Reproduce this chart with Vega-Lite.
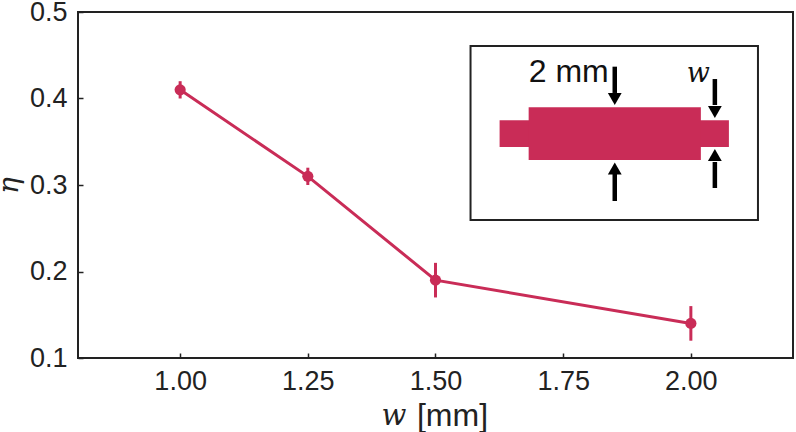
{"$schema":"https://vega.github.io/schema/vega-lite/v6.json","width":715,"height":346,"autosize":"none","padding":{"left":78,"top":12,"right":3,"bottom":74},"background":"white","config":{"view":{"stroke":"#222222","strokeWidth":2},"axis":{"grid":false,"domain":false,"tickColor":"#222222","tickWidth":1.5,"tickSize":-5,"labelFont":"Liberation Sans","labelFontSize":27,"labelColor":"#222222","titleColor":"#222222"}},"layer":[{"data":{"name":"eff","values":[{"w":1.0,"eta":0.41,"lo":0.40,"hi":0.42},{"w":1.25,"eta":0.31,"lo":0.30,"hi":0.32},{"w":1.5,"eta":0.19,"lo":0.17,"hi":0.21},{"w":2.0,"eta":0.14,"lo":0.12,"hi":0.16}]},"mark":{"type":"line","color":"#C92C57","strokeWidth":3},"encoding":{"x":{"field":"w","type":"quantitative","scale":{"domain":[0.8,2.2],"nice":false,"zero":false},"axis":{"values":[1,1.25,1.5,1.75,2],"format":".2f","labelPadding":15,"title":"[mm]","titleFont":"Liberation Sans","titleFontSize":32,"titleFontWeight":"normal","titleX":374,"titleY":67,"titleBaseline":"alphabetic","titleAlign":"center"}},"y":{"field":"eta","type":"quantitative","scale":{"domain":[0.1,0.5],"nice":false,"zero":false},"axis":{"values":[0.1,0.2,0.3,0.4,0.5],"format":".1f","labelPadding":16,"title":"η","titleFont":"DejaVu Serif","titleFontStyle":"italic","titleFontSize":28,"titleFontWeight":"normal","titleX":-55,"titleY":173}}}},{"data":{"name":"eff"},"mark":{"type":"rule","color":"#C92C57","strokeWidth":3},"encoding":{"x":{"field":"w","type":"quantitative"},"y":{"field":"lo","type":"quantitative"},"y2":{"field":"hi"}}},{"data":{"name":"eff"},"mark":{"type":"point","filled":true,"opacity":1,"color":"#C92C57","size":125},"encoding":{"x":{"field":"w","type":"quantitative"},"y":{"field":"eta","type":"quantitative"}}},{"data":{"values":[{"x1":1.5686,"x2":2.1314,"y1":0.2595,"y2":0.4607}]},"mark":{"type":"rect","fill":null,"stroke":"#222222","strokeWidth":2},"encoding":{"x":{"field":"x1","type":"quantitative"},"x2":{"field":"x2"},"y":{"field":"y1","type":"quantitative"},"y2":{"field":"y2"}}},{"data":{"values":[{"x1":1.6255,"x2":2.0745,"y1":0.3439,"y2":0.3748},{"x1":1.6824,"x2":2.0196,"y1":0.3289,"y2":0.3898}]},"mark":{"type":"rect","color":"#C92C57"},"encoding":{"x":{"field":"x1","type":"quantitative"},"x2":{"field":"x2"},"y":{"field":"y1","type":"quantitative"},"y2":{"field":"y2"}}},{"data":{"values":[{"x":1.851,"y1":0.4368,"y2":0.4064},{"x":1.851,"y1":0.2815,"y2":0.315},{"x":2.047,"y1":0.4225,"y2":0.3925},{"x":2.047,"y1":0.2965,"y2":0.3266}]},"mark":{"type":"rule","color":"#000000","strokeWidth":4.5},"encoding":{"x":{"field":"x","type":"quantitative"},"y":{"field":"y1","type":"quantitative"},"y2":{"field":"y2"}}},{"data":{"values":[{"x":1.851,"y":0.3994,"dir":"down"},{"x":1.851,"y":0.3191,"dir":"up"},{"x":2.047,"y":0.3844,"dir":"down"},{"x":2.047,"y":0.3347,"dir":"up"}]},"mark":{"type":"point","filled":true,"opacity":1,"color":"#000000","size":190},"encoding":{"x":{"field":"x","type":"quantitative"},"y":{"field":"y","type":"quantitative"},"shape":{"field":"dir","type":"nominal","scale":{"domain":["down","up"],"range":["triangle-down","triangle-up"]},"legend":null}}},{"data":{"values":[{"x":1.7608,"y":0.4305,"t":"2 mm"}]},"mark":{"type":"text","font":"Liberation Sans","fontSize":32,"color":"#111111"},"encoding":{"x":{"field":"x","type":"quantitative"},"y":{"field":"y","type":"quantitative"},"text":{"field":"t"}}},{"data":{"values":[{"x":2.0147,"y":0.4283,"t":"w"}]},"mark":{"type":"text","font":"DejaVu Serif","fontStyle":"italic","fontSize":27,"color":"#111111"},"encoding":{"x":{"field":"x","type":"quantitative"},"y":{"field":"y","type":"quantitative"},"text":{"field":"t"}}},{"data":{"values":[{"x":1.4186,"y":0.033,"t":"w"}]},"mark":{"type":"text","font":"DejaVu Serif","fontStyle":"italic","fontSize":29,"color":"#222222"},"encoding":{"x":{"field":"x","type":"quantitative"},"y":{"field":"y","type":"quantitative"},"text":{"field":"t"}}}]}
